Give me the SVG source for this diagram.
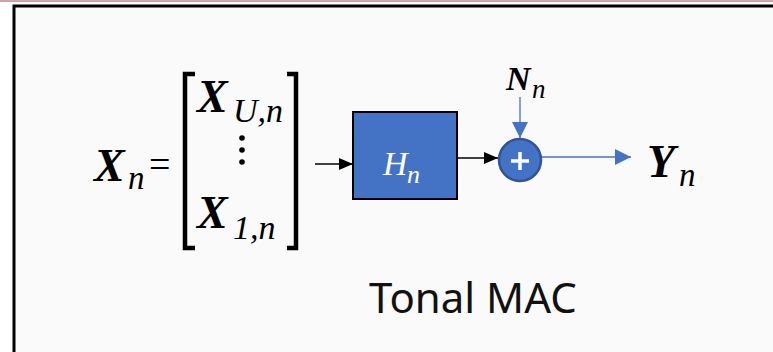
<svg xmlns="http://www.w3.org/2000/svg" width="773" height="352" viewBox="0 0 773 352">
<style>
.m{font-family:"Liberation Serif","DejaVu Serif",serif;font-style:italic;font-weight:bold;fill:#000}
.s{font-family:"Liberation Serif","DejaVu Serif",serif;font-style:italic;font-weight:normal}
.t{font-family:"Noto Sans","Open Sans",sans-serif;fill:#111}
</style>
<defs>
<marker id="ak" markerWidth="14" markerHeight="12" refX="14" refY="6" orient="auto" markerUnits="userSpaceOnUse"><path d="M0,0 L14,6 L0,12 Z" fill="#000"/></marker>
<marker id="ab" markerWidth="16" markerHeight="16" refX="16" refY="8" orient="auto" markerUnits="userSpaceOnUse"><path d="M0,0 L16,8 L0,16 Z" fill="#4472c4"/></marker>
</defs>
<rect width="773" height="352" fill="#fff"/>
<rect x="0" y="0" width="773" height="2" fill="#d4a3a3"/>
<rect x="14" y="6" width="770" height="360" fill="#fafafa" stroke="#000" stroke-width="3"/>
<g id="input">
<text class="m" x="94" y="181" font-size="46">X</text>
<text class="s" x="128" y="189" font-size="33">n</text>
<text x="149" y="177" font-size="38" font-family="Liberation Serif,serif">=</text>
<path d="M195,74 H185 V248 H195 M287,74 H296 V248 H287" fill="none" stroke="#000" stroke-width="4.5"/>
<text class="m" x="197" y="112" font-size="46">X</text>
<text class="s" x="233" y="122" font-size="34">U,n</text>
<circle cx="242" cy="138" r="2.8"/><circle cx="242" cy="150" r="2.8"/><circle cx="242" cy="162" r="2.8"/>
<text class="m" x="197" y="228" font-size="46">X</text>
<text class="s" x="233" y="239" font-size="34">1,n</text>
</g>
<g id="H">
<rect x="353" y="112" width="104" height="87" fill="#4472c4" stroke="#000" stroke-width="2"/>
<text class="s" x="383" y="175" font-size="34" fill="#fff">H</text>
<text class="s" x="407" y="183" font-size="26" fill="#fff">n</text>
</g>
<g id="sum">
<circle cx="520" cy="160" r="21" fill="#4472c4" stroke="#2f5597" stroke-width="2.5"/>
<path d="M511,161 H529 M520,152 V170" stroke="#fff" stroke-width="3.5"/>
</g>
<g id="noise">
<text class="m" x="506" y="90" font-size="34">N</text>
<text class="s" x="532" y="98" font-size="27">n</text>
</g>
<g id="output">
<text class="m" x="647" y="177" font-size="46">Y</text>
<text class="s" x="679" y="186" font-size="33">n</text>
</g>
<g id="connectors">
<line x1="315" y1="164" x2="353" y2="164" stroke="#000" stroke-width="1.3" marker-end="url(#ak)"/>
<line x1="457" y1="158" x2="498" y2="158" stroke="#000" stroke-width="1.3" marker-end="url(#ak)"/>
<line x1="520" y1="97" x2="520" y2="138" stroke="#4472c4" stroke-width="1.3" marker-end="url(#ab)"/>
<line x1="542" y1="157" x2="631" y2="157" stroke="#4472c4" stroke-width="1.3" marker-end="url(#ab)"/>
</g>
<text class="t" x="369" y="313" font-size="42">Tonal MAC</text>
</svg>
